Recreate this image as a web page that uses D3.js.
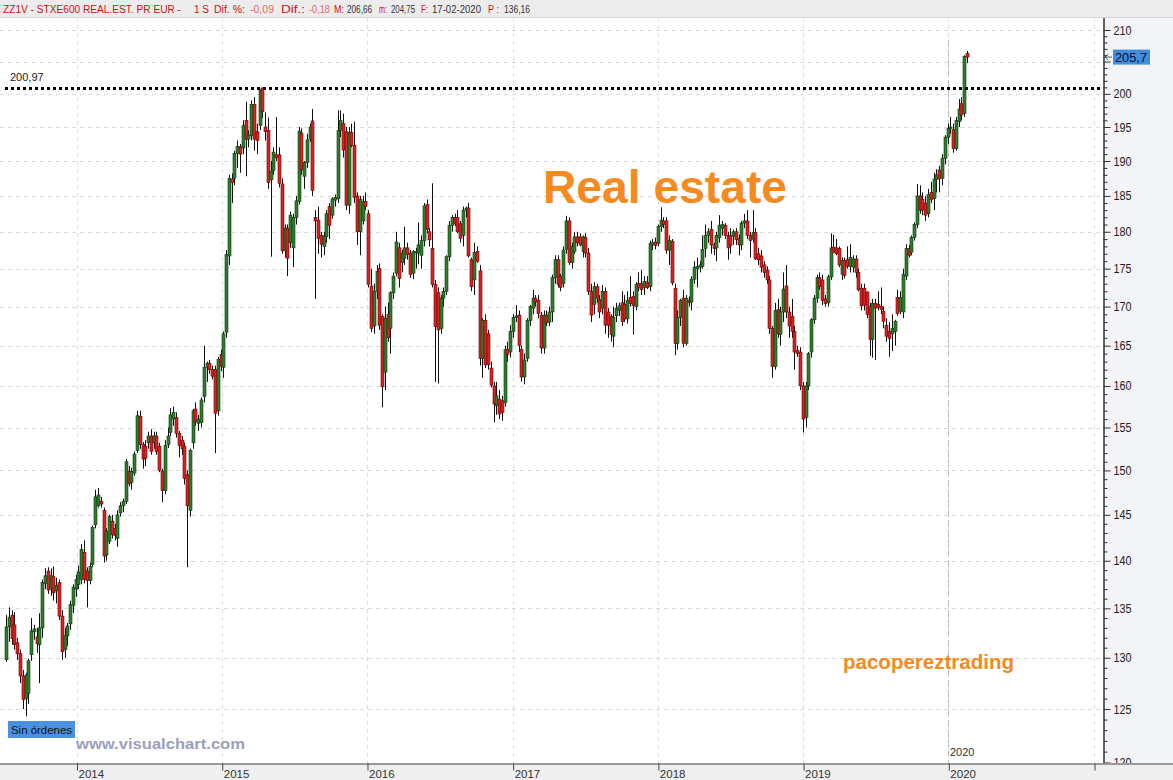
<!DOCTYPE html>
<html><head><meta charset="utf-8">
<script src="https://cdn.jsdelivr.net/npm/d3@7"></script>
<style>
html,body{margin:0;padding:0;background:#fff;}
svg{display:block;}
text{font-family:"Liberation Sans",Arial,sans-serif;}
</style></head>
<body>
<svg id="c" width="1173" height="780"></svg>
<script>
// ---------- DATA (weekly candles, 2013-07-08 .. 2020-02-17) ----------
const lastWeek = "2020-02-17";
const opens = [
129.8,133.1,134.3,133.3,131.5,130.4,128.2,126.0,126.5,130.3,
132.6,132.1,131.3,133.0,137.6,138.9,137.0,138.3,136.8,137.7,
134.2,130.8,132.2,133.4,135.3,137.0,137.5,138.0,140.9,138.9,
137.9,139.6,143.9,146.0,146.5,145.5,140.6,142.1,144.3,143.5,
142.4,145.2,146.0,146.5,149.9,148.6,149.7,152.3,156.3,153.0,
152.8,153.2,154.0,153.2,154.0,152.8,149.9,147.7,153.0,154.4,
156.0,156.2,154.3,153.5,152.8,149.5,145.5,153.2,157.2,155.5,
155.6,158.7,162.3,162.8,162.0,162.0,157.0,163.9,162.3,166.7,
176.7,187.4,187.5,191.1,192.1,191.9,196.0,193.2,193.7,198.4,
194.3,195.2,200.9,195.0,194.5,187.3,188.6,190.9,190.9,186.7,
177.4,180.5,178.5,177.8,182.0,184.2,194.1,187.8,189.8,193.2,
195.9,182.0,181.6,179.5,178.0,179.3,183.5,182.3,184.4,184.6,
194.5,195.5,194.3,183.7,194.2,192.3,185.0,180.0,181.5,184.2,
182.5,172.7,167.5,172.0,175.0,168.7,161.7,169.0,167.2,171.8,
174.4,177.8,175.8,176.4,177.8,177.1,174.4,177.1,177.1,176.8,
178.8,183.8,180.0,177.7,172.9,171.8,167.2,171.1,172.0,176.6,
180.9,182.0,182.0,181.1,179.5,183.0,183.3,176.2,173.5,177.3,
174.7,163.4,168.2,166.5,162.2,160.0,157.6,158.4,158.2,158.0,
164.5,164.2,166.8,168.6,168.9,164.5,161.1,163.4,168.2,169.8,
171.1,170.8,168.9,164.7,168.9,168.0,169.3,173.8,176.2,174.0,
173.0,177.6,181.5,175.8,177.3,179.3,179.3,177.3,179.2,177.1,
172.0,170.3,172.6,170.9,169.8,172.0,169.3,168.7,166.2,168.8,
169.5,170.5,170.3,168.4,171.2,171.3,170.0,173.0,173.0,172.5,
173.2,172.6,178.2,178.6,178.4,180.7,181.5,181.5,177.5,178.7,
172.4,165.3,168.6,171.1,165.3,170.8,170.6,173.6,175.0,175.2,
175.3,177.7,179.5,180.3,178.2,177.8,179.2,180.5,180.9,179.5,
179.5,179.4,180.0,179.1,178.2,181.2,181.5,179.5,179.0,179.9,
177.0,176.7,175.5,174.8,173.5,167.2,162.4,169.6,166.4,169.3,
172.7,169.3,168.7,166.8,164.4,164.2,160.0,156.2,160.0,164.2,
168.3,171.1,173.8,173.5,171.0,170.5,173.9,177.9,177.8,177.7,
174.2,176.1,176.2,175.3,175.2,176.3,174.5,172.4,172.4,171.9,
170.0,165.8,170.4,170.3,170.0,169.4,167.6,166.8,166.5,166.8,
171.2,169.4,169.3,174.0,177.7,177.2,179.2,181.0,185.0,184.5,
184.0,182.5,185.5,184.6,187.3,188.7,187.5,190.4,193.5,194.8,
194.6,191.8,195.8,198.5,197.0,206.3];
const highs = [
134.3,135.1,134.8,134.6,132.0,130.8,128.8,128.5,129.9,134.0,
133.3,133.0,134.5,138.0,139.2,139.3,139.2,139.4,138.2,138.0,
134.8,133.0,133.5,135.8,137.5,138.5,139.5,141.8,142.2,139.3,
139.8,143.8,147.8,148.0,147.0,145.8,143.5,145.0,145.0,144.0,
145.5,146.4,146.8,151.3,150.5,150.3,152.2,157.0,157.0,153.3,
153.5,154.5,154.8,154.5,154.5,153.2,150.2,153.5,155.0,157.3,
157.5,156.8,154.6,154.0,153.2,150.0,152.5,157.2,158.0,156.5,
158.6,165.0,163.0,163.2,162.5,162.5,163.6,164.5,166.8,177.5,
188.0,188.2,191.5,193.0,192.5,196.0,198.8,194.5,199.0,199.5,
195.5,200.7,200.97,197.2,196.4,190.0,192.0,196.5,192.0,187.5,
181.0,181.0,182.8,182.5,185.0,195.0,194.8,190.0,194.0,195.5,
197.7,183.0,183.5,180.0,180.0,183.0,184.0,184.8,185.2,197.5,
197.5,197.0,195.0,195.0,195.5,195.8,185.5,185.0,185.0,185.5,
183.0,175.0,173.0,175.5,175.7,169.0,170.0,170.5,172.0,174.5,
180.0,178.5,177.5,180.7,178.5,177.5,177.5,177.8,181.3,179.5,
184.0,184.5,180.5,186.8,173.5,172.5,171.5,172.5,176.8,181.5,
182.3,182.5,183.0,181.5,183.5,183.5,184.0,176.5,178.5,178.0,
175.5,168.5,169.0,167.0,163.0,160.5,160.5,159.5,158.8,165.0,
165.5,167.6,169.0,170.2,169.5,165.0,164.0,168.5,170.2,172.2,
171.5,171.5,169.3,169.5,169.5,170.0,174.2,176.8,176.8,174.3,
178.0,182.2,182.0,178.5,180.0,180.0,179.8,179.5,179.8,177.8,
173.0,173.2,173.0,171.5,172.8,172.5,169.8,169.0,170.0,170.5,
170.5,172.0,171.5,172.0,174.0,172.0,173.2,174.5,174.8,174.0,
174.0,178.8,179.0,179.2,181.0,183.4,182.0,182.0,179.5,179.0,
173.0,169.5,171.0,172.2,171.5,171.3,174.0,176.0,176.5,176.0,
179.5,181.0,180.5,181.5,178.5,180.0,182.3,181.5,181.2,180.0,
180.5,180.3,180.5,179.6,181.5,182.5,183.0,180.0,183.0,180.5,
177.8,177.5,176.0,175.3,174.0,167.5,170.5,171.0,170.0,174.5,
175.5,170.0,171.0,167.5,165.0,164.8,160.5,160.5,164.2,168.5,
171.5,174.2,174.5,174.2,171.5,174.2,179.8,179.6,179.0,178.0,
176.5,176.5,178.0,178.3,176.8,176.8,175.0,173.0,173.0,172.0,
170.5,171.0,171.0,172.0,172.5,170.0,168.5,168.0,169.0,168.3,
172.2,172.0,175.0,178.3,178.2,179.5,181.3,186.7,186.5,185.5,
185.0,186.0,187.0,188.3,188.8,189.3,191.0,193.8,195.5,196.5,
195.5,196.5,199.2,199.5,206.0,206.66];
const lows = [
129.6,131.6,131.3,130.8,129.8,127.5,125.0,124.3,125.5,129.7,
131.8,130.5,127.5,132.0,137.0,136.5,136.3,135.8,135.5,133.8,
129.8,130.0,131.2,132.8,134.5,136.2,137.0,137.5,137.6,135.1,
137.5,139.3,143.5,145.8,145.8,139.8,140.0,141.8,142.4,142.2,
141.5,144.8,145.3,146.2,148.2,147.8,149.4,152.0,152.5,150.2,
150.5,152.5,151.8,152.5,151.8,149.8,146.4,147.3,152.6,154.0,
155.2,153.8,151.5,151.8,148.4,139.3,144.8,152.5,155.2,154.6,
155.0,158.0,160.5,161.5,160.8,152.0,156.4,161.8,161.0,166.0,
175.5,184.0,186.5,189.0,188.3,191.0,187.8,192.0,193.0,191.5,
191.0,194.5,196.3,193.0,186.0,176.6,188.0,190.0,186.2,177.0,
176.5,174.0,177.8,175.2,181.0,183.8,188.0,186.0,189.0,192.8,
185.0,171.0,177.0,176.5,176.8,178.5,179.0,181.8,183.5,184.0,
193.5,190.5,183.0,182.5,192.0,184.0,178.2,176.8,181.0,183.0,
172.5,166.7,166.5,171.0,167.0,157.4,159.5,165.5,164.0,171.0,
174.0,172.5,174.5,175.5,176.2,173.8,173.6,175.0,175.6,175.0,
178.0,179.8,178.0,172.5,160.5,160.3,166.5,170.0,171.5,176.0,
180.0,180.8,179.8,178.5,178.0,182.0,176.5,172.0,171.5,175.8,
162.5,161.0,162.2,162.0,159.8,155.6,156.5,156.0,155.8,157.5,
163.0,163.5,166.0,168.0,164.2,160.5,160.2,163.0,167.5,169.0,
170.0,168.5,164.0,164.0,167.5,167.5,168.0,173.0,172.5,172.0,
172.5,177.0,175.5,175.0,177.0,178.0,178.0,176.5,176.5,171.5,
168.0,169.0,170.5,168.5,169.0,166.5,166.0,165.5,164.8,168.0,
168.8,167.5,168.0,167.8,170.0,166.4,169.5,172.0,171.5,171.5,
172.3,172.0,177.5,177.6,178.0,180.0,180.5,177.0,175.5,172.8,
163.8,164.5,167.5,164.8,165.0,170.0,169.5,173.0,172.5,174.5,
175.0,176.5,178.5,177.0,176.8,176.0,178.5,179.5,179.0,176.2,
177.0,178.2,178.2,176.8,177.5,180.5,179.0,176.5,178.5,176.2,
175.5,174.5,173.8,173.0,166.5,161.0,162.0,166.0,165.0,168.0,
168.5,166.0,166.0,162.0,163.6,159.5,154.4,155.0,159.5,163.5,
167.8,170.5,172.2,170.2,170.0,170.0,173.5,177.2,176.8,175.2,
173.5,173.7,175.0,174.5,174.5,173.8,172.0,169.5,169.5,168.5,
163.7,163.5,163.2,169.5,169.0,167.2,165.5,163.6,164.3,165.0,
168.8,169.0,168.5,173.5,176.5,176.8,178.8,180.5,182.5,182.3,
181.5,182.0,184.0,183.0,185.5,185.5,186.5,189.5,192.5,194.0,
191.2,191.5,195.0,196.0,196.5,204.75];
const closes = [
133.1,134.1,131.9,131.3,130.4,128.2,125.9,128.3,129.7,132.7,
132.9,131.4,133.0,137.7,138.4,136.9,138.4,136.6,137.4,134.2,
130.6,132.2,133.2,135.4,137.2,138.0,138.8,141.2,138.0,137.9,
139.4,143.6,147.0,147.2,146.2,140.5,143.2,144.8,142.8,142.7,
145.0,146.0,146.5,151.0,148.5,149.9,151.9,156.4,153.0,151.3,
151.4,154.0,152.2,154.0,152.2,150.0,147.7,152.9,154.0,156.5,
156.8,154.3,152.9,152.5,149.1,146.0,152.3,157.0,155.7,156.0,
158.3,162.3,162.8,162.0,161.2,156.7,163.3,162.4,166.5,176.9,
187.5,186.9,191.1,192.1,191.0,195.2,193.2,193.8,198.4,193.2,
193.0,200.5,197.3,194.3,186.9,188.5,191.3,190.5,186.8,177.4,
180.5,176.4,182.3,182.0,184.3,194.4,188.7,189.8,193.1,195.0,
185.8,181.5,179.1,178.3,179.5,182.5,180.9,184.6,184.8,194.5,
196.0,191.6,183.7,194.2,192.3,184.8,180.0,184.5,184.2,183.5,
172.9,167.2,172.0,174.6,167.6,159.9,168.5,166.0,171.8,174.0,
178.6,173.7,177.1,177.8,176.9,174.2,177.3,177.3,178.2,178.8,
183.6,180.3,178.9,172.9,167.4,167.0,171.1,172.0,176.6,180.9,
182.0,181.1,180.0,179.1,183.0,183.3,176.7,172.6,177.2,176.0,
163.4,168.2,162.6,162.6,160.1,157.8,158.8,156.6,156.8,164.5,
163.9,166.8,168.6,168.8,165.0,161.1,163.2,168.2,170.0,171.1,
170.6,169.1,164.7,168.9,167.9,169.3,173.8,176.2,172.9,172.5,
177.5,181.5,175.8,178.0,179.3,178.5,178.2,179.3,177.1,172.0,
168.9,172.6,171.1,169.3,172.0,167.6,167.6,166.4,168.6,169.8,
170.1,168.1,168.4,170.8,170.4,170.1,172.9,172.5,172.2,173.3,
172.5,178.4,178.5,178.1,180.7,181.6,181.0,177.5,178.8,173.1,
165.3,168.6,170.8,165.3,171.1,170.5,173.6,175.2,175.3,175.5,
177.6,179.5,180.0,178.2,177.7,179.5,180.9,181.0,179.5,177.8,
178.1,180.0,178.9,178.2,181.2,181.5,179.5,178.8,179.9,176.3,
176.2,175.2,174.5,173.5,167.2,162.4,169.5,166.5,169.3,172.3,
169.3,167.5,166.8,164.2,164.0,160.0,156.0,160.0,164.0,168.3,
171.1,173.8,172.6,170.8,170.4,173.9,177.8,177.2,177.0,175.5,
176.1,174.1,175.3,176.5,176.3,174.5,172.2,170.1,170.2,169.0,
165.8,170.4,169.8,169.9,169.6,168.1,166.2,165.9,167.2,168.1,
169.1,171.2,174.2,177.7,176.8,179.2,181.0,185.0,183.0,183.0,
182.3,185.2,184.5,187.4,188.0,187.5,190.4,193.5,194.8,195.0,
191.8,196.0,197.7,196.8,205.8,205.7];

const yearTicks = ["2014","2015","2016","2017","2018","2019","2020","2021"];
const yearLabels = ["2014","2015","2016","2017","2018","2019","2020",""];
const priceTicks = [120,125,130,135,140,145,150,155,160,165,170,175,180,185,190,195,200,205,210];
const hiddenPriceLabels = [205];
const resistance = 200.97;
const resistanceLabel = "200,97";
const lastPrice = 205.7;
const lastPriceLabel = "205,7";
const currentYear = "2020";
const title = "Real estate";
const author = "pacopereztrading";
const site = "www.visualchart.com";
const ordersLabel = "Sin órdenes";
// [text, colour role, left x, width]
const headerParts = [
  ["ZZ1V - STXE600 REAL.EST. PR EUR -", "lab", 3, 178],
  ["1 S", "lab", 194, 15],
  ["Dif. %:", "lab", 214, 31],
  ["-0,09", "neg", 250, 24],
  ["Dif.:", "lab", 281, 24],
  ["-0,18", "neg", 309, 21],
  ["M:", "lab", 334, 10],
  ["206,66", "val", 347, 25],
  ["m:", "lab", 379, 8],
  ["204,75", "val", 391, 24],
  ["F:", "lab", 421, 7],
  ["17-02-2020", "val", 432, 49],
  ["P :", "lab", 488, 11],
  ["136,16", "val", 504, 26]
];

// ---------- LAYOUT ----------
const W = 1173, H = 780;
const plotL = 0, plotR = 1103, plotT = 17, plotB = 763;
const svg = d3.select("#c");
const parse = d3.timeParse("%Y-%m-%d");
const n = closes.length;
const last = parse(lastWeek);
const dates = closes.map((_, i) => d3.timeDay.offset(last, (i - (n - 1)) * 7));

const x = d3.scaleTime()
  .domain([parse("2014-01-01"), parse("2021-01-01")])
  .range([76.5, 1094]);
const y = d3.scaleLog().domain([120, 210]).range([762.5, 30]);

svg.append("rect").attr("width", W).attr("height", H).attr("fill", "#fff");

// grid
const grid = svg.append("g");
grid.selectAll("line.h").data(priceTicks.filter(v => v > 120)).join("line")
  .attr("x1", plotL).attr("x2", plotR)
  .attr("y1", d => Math.round(y(d)) + 0.5).attr("y2", d => Math.round(y(d)) + 0.5)
  .attr("stroke", "#dcdcdc").attr("stroke-dasharray", "4,4");
const yearDates = yearTicks.map(s => parse(s + "-01-01"));
grid.selectAll("line.v").data(yearDates).join("line")
  .attr("x1", d => Math.round(x(d)) + 0.5).attr("x2", d => Math.round(x(d)) + 0.5)
  .attr("y1", plotT).attr("y2", plotB)
  .attr("stroke", "#dcdcdc").attr("stroke-dasharray", "4,4");

// current period marker
const cx2020 = Math.round(x(parse(currentYear + "-01-01"))) + 0.5;
svg.append("line").attr("x1", cx2020).attr("x2", cx2020).attr("y1", 40).attr("y2", plotB)
  .attr("stroke", "#bdbdbd").attr("stroke-dasharray", "7,3");
svg.append("text").attr("x", cx2020 + 1.5).attr("y", 756)
  .attr("font-size", 11).attr("fill", "#333").text(currentYear);

// watermarks / annotations
svg.append("text").attr("x", 543).attr("y", 203)
  .attr("font-size", 47).attr("font-weight", "bold").attr("fill", "#f58a1f")
  .attr("textLength", 244).attr("lengthAdjust", "spacingAndGlyphs").text(title);
svg.append("text").attr("x", 843).attr("y", 669)
  .attr("font-size", 20).attr("font-weight", "bold").attr("fill", "#f58a1f")
  .attr("textLength", 171).attr("lengthAdjust", "spacingAndGlyphs").text(author);
svg.append("text").attr("x", 76).attr("y", 749)
  .attr("font-size", 15).attr("font-weight", "bold").attr("fill", "#9c9ec0")
  .attr("textLength", 169).attr("lengthAdjust", "spacingAndGlyphs").text(site);
svg.append("rect").attr("x", 8).attr("y", 721).attr("width", 67).attr("height", 17).attr("fill", "#4a92df");
svg.append("text").attr("x", 11).attr("y", 734).attr("font-size", 11).attr("fill", "#111")
  .attr("textLength", 61).attr("lengthAdjust", "spacingAndGlyphs").text(ordersLabel);

// candles
const cg = svg.append("g");
const data = closes.map((c, i) => ({d: dates[i], o: opens[i], h: highs[i], l: lows[i], c: c}));
const cxOf = d => Math.round(x(d.d));
cg.selectAll("line.w").data(data).join("line")
  .attr("x1", d => cxOf(d) + 0.5).attr("x2", d => cxOf(d) + 0.5)
  .attr("y1", d => y(d.h)).attr("y2", d => y(d.l))
  .attr("stroke", "#111").attr("stroke-width", 1);
cg.selectAll("rect.b").data(data).join("rect")
  .attr("x", d => cxOf(d) - 1)
  .attr("width", 3)
  .attr("y", d => y(Math.max(d.o, d.c)))
  .attr("height", d => Math.max(1, Math.abs(y(d.o) - y(d.c))))
  .attr("fill", d => d.c >= d.o ? "#2d7d2d" : "#dd2020")
  .attr("stroke", d => d.c >= d.o ? "#0f3a0f" : "#5c0c0c")
  .attr("stroke-width", 0.6);

// resistance dotted line
const ry = Math.round(y(resistance)) + 0.5;
svg.append("line").attr("x1", 5).attr("x2", 1100).attr("y1", ry).attr("y2", ry)
  .attr("stroke", "#000").attr("stroke-width", 3).attr("stroke-dasharray", "3,3");
svg.append("text").attr("x", 10).attr("y", ry - 8).attr("font-size", 11).attr("fill", "#222")
  .text(resistanceLabel);

// right axis panel
svg.append("rect").attr("x", plotR).attr("y", plotT).attr("width", W - plotR).attr("height", H - plotT)
  .attr("fill", "#f3f4f7");
const minor = d3.range(121, 211).filter(v => v % 5 !== 0);
const axMinor = d3.axisRight(y).tickValues(minor).tickSize(4).tickFormat("");
const axMajor = d3.axisRight(y).tickValues(priceTicks).tickSize(7).tickPadding(3)
  .tickFormat(d => hiddenPriceLabels.includes(d) ? "" : d3.format("d")(d));
const gMin = svg.append("g").attr("transform", `translate(${plotR + 0.5},0)`).call(axMinor);
const gMaj = svg.append("g").attr("transform", `translate(${plotR + 0.5},0)`).call(axMajor);
[gMin, gMaj].forEach(g => {
  g.select(".domain").attr("stroke", "#333").attr("d", `M0.5,${plotT}V${plotB}`);
  g.selectAll(".tick line").attr("stroke", "#333");
});
gMaj.selectAll(".tick text").filter(d => !hiddenPriceLabels.includes(d))
  .attr("font-size", 12.5).attr("fill", "#222")
  .attr("font-family", "'Liberation Sans',Arial,sans-serif")
  .attr("textLength", 18).attr("lengthAdjust", "spacingAndGlyphs");
gMaj.selectAll(".tick text").filter(d => hiddenPriceLabels.includes(d)).remove();

// last price badge
const ly = y(lastPrice);
svg.append("rect").attr("x", 1113).attr("y", ly - 7.5).attr("width", 37).attr("height", 15).attr("fill", "#3d8fdd");
svg.append("text").attr("x", 1115).attr("y", ly + 4.5).attr("font-size", 12.5).attr("fill", "#0a0a3a")
  .attr("textLength", 32).attr("lengthAdjust", "spacingAndGlyphs").text(lastPriceLabel);
svg.append("path").attr("d", `M1105,${ly}h7M1105,${ly}l3,-3M1105,${ly}l3,3`)
  .attr("stroke", "#333").attr("fill", "none").attr("stroke-width", 0.8);

// bottom axis band
svg.append("rect").attr("x", 0).attr("y", plotB).attr("width", W).attr("height", H - plotB).attr("fill", "#efefef");
const axX = d3.axisBottom(x).tickValues(yearDates).tickSize(7).tickPadding(2)
  .tickFormat((d, i) => yearLabels[i]);
const gX = svg.append("g").attr("transform", `translate(0,${plotB + 0.5})`).call(axX);
gX.select(".domain").attr("stroke", "#444").attr("d", `M0,0.5H${W}`);
gX.selectAll(".tick line").attr("stroke", "#444").attr("transform", "translate(0.5,0)");
gX.selectAll(".tick text").attr("text-anchor", "start").attr("dx", 1.5).attr("dy", "0.45em")
  .attr("font-size", 11.5).attr("fill", "#333")
  .attr("font-family", "'Liberation Sans',Arial,sans-serif");

// header
svg.append("rect").attr("x", 0).attr("y", 0).attr("width", W).attr("height", plotT).attr("fill", "#ececec");
svg.append("line").attr("x1", 0).attr("x2", W).attr("y1", plotT + 0.5).attr("y2", plotT + 0.5).attr("stroke", "#d4d4d4");
const hc = {lab: "#d01010", neg: "#e66a6a", val: "#333"};
svg.append("g").selectAll("text").data(headerParts).join("text")
  .attr("x", d => d[2]).attr("y", 12.5).attr("font-size", 10)
  .attr("textLength", d => d[3]).attr("lengthAdjust", "spacingAndGlyphs")
  .attr("fill", d => hc[d[1]]).text(d => d[0]);
</script>
</body></html>
